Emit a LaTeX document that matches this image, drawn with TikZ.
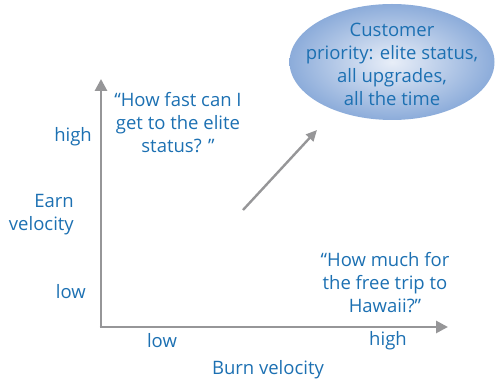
\documentclass[tikz,border=0pt]{standalone}
\usepackage{fontspec}
\setmainfont{Open Sans}
\usetikzlibrary{arrows.meta,shapes.geometric}
\definecolor{txtblue}{RGB}{28,112,178}
\definecolor{axgray}{RGB}{150,150,152}
\definecolor{ellin}{RGB}{232,238,248}
\definecolor{ellout}{RGB}{140,172,218}
\begin{document}
\begin{tikzpicture}[x=1pt,y=-1pt,
  lbl/.style={text=txtblue,font=\fontsize{18.5}{23}\selectfont,inner sep=0pt,align=center},
  axis/.style={draw=axgray,line width=2.8pt,-{Triangle[length=12pt,width=12pt]}}]
\useasboundingbox (0,0) rectangle (499,379);
\coordinate (o) at (101,327);
\coordinate (ytop) at (101,79);
\coordinate (xend) at (448,327);
\draw[axis] (o) -- (ytop);
\draw[axis,shorten <=-1.4pt] (o) -- (xend);
\coordinate (d1) at (243,210);
\coordinate (d2) at (317,130);
\draw[axis,line width=2.4pt,-{Triangle[length=11pt,width=10pt]}] (d1) -- (d2);
\node[ellipse,minimum width=205pt,minimum height=116pt,inner color=ellin,outer color=ellout] (ell) at (392,62) {};
\node[lbl] (elltxt) at (392,64) {Customer\\priority: elite status,\\all upgrades,\\all the time};
\node[lbl] (q1) at (178,123) {“How fast can I\\get to the elite\\status? ”};
\node[lbl] (q2) at (385,283) {“How much for\\the free trip to\\Hawaii?”};
\node[lbl,anchor=east] (yh) at (92,137) {high};
\node[lbl,anchor=east,align=right] (ylab) at (74,215) {Earn\\velocity};
\node[lbl,anchor=east] (yl) at (86,292) {low};
\node[lbl] (xl) at (162,341) {low};
\node[lbl] (xh) at (388,341) {high};
\node[lbl] (xlab) at (268,370) {Burn velocity};
\end{tikzpicture}
\end{document}
